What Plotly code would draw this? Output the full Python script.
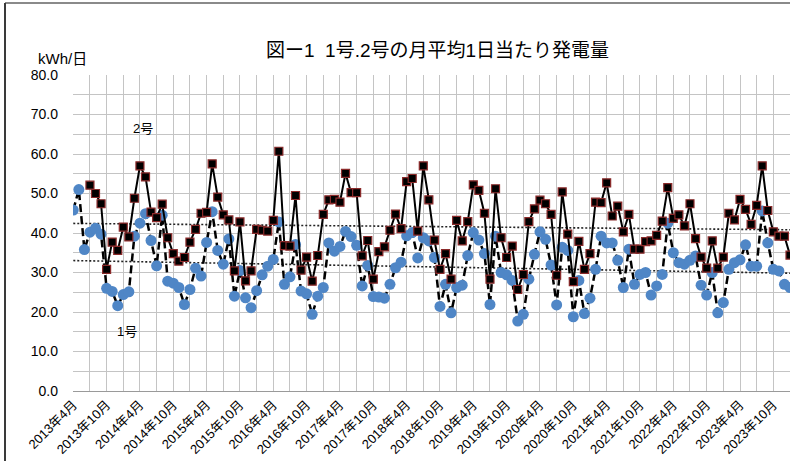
import numpy as np
import plotly.graph_objects as go

# Monthly labels, April 2013 onward (130 months)
months = []
y, mo = 2013, 4
for _ in range(130):
    months.append(f"{y}年{mo}月")
    mo += 1
    if mo > 12:
        mo = 1
        y += 1

# 1号: daily average generation per month (kWh/day), from 2013年4月
unit1 = [
    45.8, 51.0, 35.8, 40.2, 41.2, 39.7, 26.0, 25.2, 21.6, 24.4,
    25.1, 39.2, 42.5, 44.9, 38.1, 31.7, 44.5, 27.8, 27.3, 26.2,
    21.9, 25.7, 31.1, 29.1, 37.6, 45.4, 35.6, 32.1, 38.5, 24.0,
    30.5, 23.6, 21.1, 25.4, 29.4, 31.6, 33.3, 42.8, 27.0, 28.9,
    37.1, 25.3, 24.6, 19.4, 24.0, 26.2, 37.5, 35.4, 36.6, 40.4,
    39.1, 36.9, 26.6, 31.8, 23.9, 23.8, 23.5, 27.0, 31.2, 32.6,
    39.3, 40.1, 33.7, 38.8, 38.0, 33.8, 21.4, 27.0, 19.8, 26.2,
    26.8, 34.3, 40.1, 38.2, 34.8, 21.9, 39.2, 30.0, 29.4, 28.0,
    17.7, 19.4, 28.3, 34.6, 40.3, 38.4, 31.9, 21.8, 36.4, 35.6,
    18.8, 28.0, 19.6, 23.5, 30.8, 39.2, 37.5, 37.5, 33.1, 26.2,
    35.9, 27.0, 29.5, 30.0, 24.3, 26.6, 29.5, 42.5, 35.0, 32.5,
    32.1, 33.1, 34.2, 26.8, 24.3, 30.0, 19.8, 22.4, 30.8, 32.5,
    33.2, 37.0, 31.6, 31.6, 45.6, 37.5, 30.8, 30.4, 27.0, 26.2,
]

# 2号: daily average generation per month (kWh/day), from 2013年7月
unit2 = [
    None, None, None,
    52.1, 50.0, 47.4, 30.8, 37.7, 35.6, 41.5,
    39.0, 48.8, 57.0, 54.2, 45.3, 43.9, 47.3, 38.8, 34.8, 32.9,
    33.8, 37.7, 40.9, 45.0, 45.2, 57.5, 49.1, 44.6, 43.3, 30.4,
    42.8, 27.9, 30.4, 40.9, 40.7, 40.5, 43.2, 60.7, 36.8, 36.7,
    49.5, 30.6, 33.9, 27.8, 34.3, 44.7, 48.4, 48.5, 47.8, 55.1,
    50.2, 50.2, 34.2, 38.1, 28.3, 35.3, 36.5, 40.7, 44.8, 41.1,
    53.0, 53.8, 40.5, 57.0, 48.4, 38.2, 30.8, 34.8, 28.3, 43.2,
    38.0, 42.9, 52.2, 50.8, 45.0, 28.3, 51.2, 38.8, 33.8, 36.7,
    25.7, 29.5, 42.9, 46.1, 48.3, 47.4, 44.7, 29.3, 50.4, 39.7,
    27.7, 37.9, 30.8, 34.8, 47.8, 47.7, 52.7, 44.3, 46.8, 40.3,
    44.7, 35.9, 35.9, 37.8, 38.0, 39.4, 43.0, 51.5, 43.7, 44.6,
    41.8, 47.4, 38.6, 33.9, 31.1, 38.0, 31.1, 33.9, 45.0, 43.3,
    48.5, 46.0, 42.2, 47.0, 57.0, 45.7, 40.3, 39.2, 39.2, 34.4,
]

x = np.arange(len(months))


def linear_trend(values):
    pts = [(i, v) for i, v in enumerate(values) if v is not None]
    xi = np.array([p[0] for p in pts], dtype=float)
    yi = np.array([p[1] for p in pts], dtype=float)
    k, b = np.polyfit(xi, yi, 1)
    xs = np.array([0.0, len(values) - 1.0])
    return xs, k * xs + b


# Pixel layout of the plotting area
W, H = 790, 461
PL, PR, PT, PB = 73, 790, 75, 391


def xp(px):
    return (px - PL) / (PR - PL)


def yp(py):
    return (PB - py) / (PB - PT)


FONT = "Liberation Sans, Arial, Noto Sans CJK JP, sans-serif"

fig = go.Figure()

t1x, t1y = linear_trend(unit1)
t2x, t2y = linear_trend(unit2)

fig.add_trace(go.Scatter(
    x=t1x, y=t1y, mode="lines", hoverinfo="skip",
    line=dict(color="#222222", width=1.6, dash="2px,2px"), showlegend=False))
fig.add_trace(go.Scatter(
    x=t2x, y=t2y, mode="lines", hoverinfo="skip",
    line=dict(color="#222222", width=1.6, dash="2px,2px"), showlegend=False))

fig.add_trace(go.Scatter(
    x=x, y=unit1, mode="lines+markers", name="1号",
    line=dict(color="#000000", width=2.5, dash="8px,4px"),
    marker=dict(symbol="circle", size=11, color="#4f86c6",
                line=dict(width=0)),
    showlegend=False))

fig.add_trace(go.Scatter(
    x=x, y=unit2, mode="lines+markers", name="2号",
    line=dict(color="#000000", width=2),
    marker=dict(symbol="square", size=8, color="#000000",
                line=dict(color="#8b2a2a", width=1.2)),
    connectgaps=False, showlegend=False))

tickvals = list(range(0, len(months), 3))
ticktext = [months[i] if i % 6 == 0 else "" for i in tickvals]

fig.update_xaxes(
    range=[-0.05, 129.0],
    tickmode="array", tickvals=tickvals, ticktext=ticktext,
    tickangle=-45, showgrid=True, gridcolor="#c4c4c4", gridwidth=1,
    zeroline=False, showline=True, linecolor="#9a9a9a", linewidth=1,
    ticks="", tickfont=dict(family=FONT, size=13, color="#000000"),
)

ytickvals = list(range(0, 81, 5))
yticktext = [f"{v:.1f}" if v % 10 == 0 else "" for v in ytickvals]
fig.update_yaxes(
    range=[0, 80],
    tickmode="array", tickvals=ytickvals, ticktext=yticktext,
    showgrid=True, gridcolor="#c4c4c4", gridwidth=1,
    zeroline=False, showline=False, ticks="", ticklabelstandoff=14,
    tickfont=dict(family=FONT, size=14, color="#000000"),
)

annotations = [
    dict(text="図ー1  1号.2号の月平均1日当たり発電量", x=xp(437), y=yp(50),
         font=dict(family=FONT, size=19, color="#000000")),
    dict(text="kWh/日", x=xp(62), y=yp(59),
         font=dict(family=FONT, size=15, color="#000000")),
    dict(text="2号", x=xp(143), y=yp(128),
         font=dict(family=FONT, size=13, color="#000000")),
    dict(text="1号", x=xp(127), y=yp(331),
         font=dict(family=FONT, size=13, color="#000000")),
]
for a in annotations:
    a.update(xref="paper", yref="paper", showarrow=False,
             xanchor="center", yanchor="middle")

shapes = [
    # outer frame: top and left edges
    dict(type="line", xref="paper", yref="paper",
         x0=xp(5), x1=xp(790), y0=yp(3), y1=yp(3),
         line=dict(color="#8a8a8a", width=2)),
    dict(type="line", xref="paper", yref="paper",
         x0=xp(5), x1=xp(5), y0=yp(3), y1=yp(461),
         line=dict(color="#3a3a3a", width=2)),
]

fig.update_layout(
    width=W, height=H,
    margin=dict(l=PL, r=W - PR, t=PT, b=H - PB),
    paper_bgcolor="#ffffff", plot_bgcolor="#ffffff",
    annotations=annotations, shapes=shapes,
    showlegend=False,
)

fig.write_html("out.html")
